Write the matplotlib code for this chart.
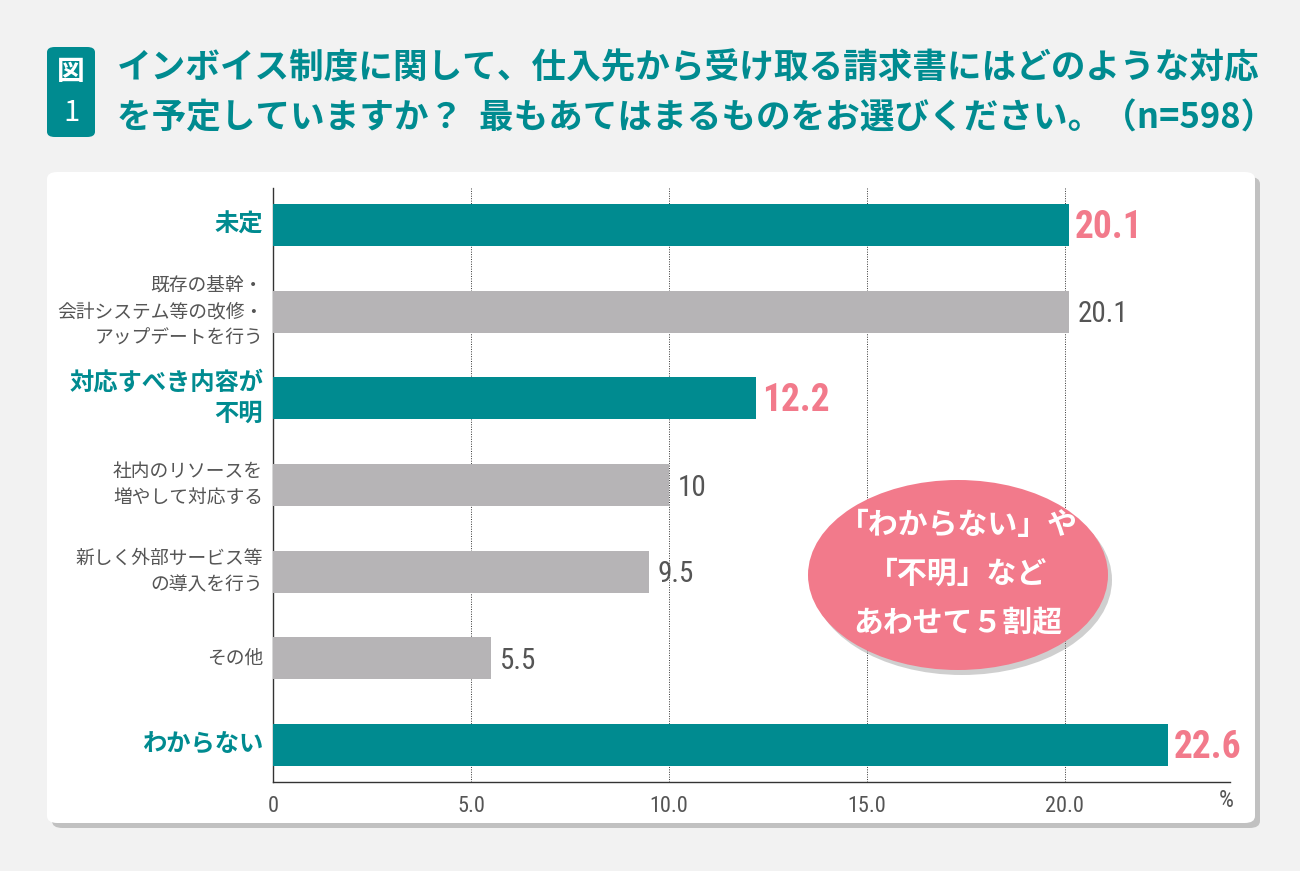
import matplotlib
matplotlib.use("Agg")
import matplotlib.pyplot as plt
from matplotlib import font_manager
from matplotlib.patches import FancyBboxPatch, Ellipse

categories = ["未定", "既存の基幹・\n会計システム等の改修・\nアップデートを行う", "対応すべき内容が\n不明",
              "社内のリソースを\n増やして対応する", "新しく外部サービス等\nの導入を行う", "その他", "わからない"]
values = [20.1, 20.1, 12.2, 10, 9.5, 5.5, 22.6]
value_labels = ["20.1", "20.1", "12.2", "10", "9.5", "5.5", "22.6"]
highlight = [True, False, True, False, False, False, True]
xticks = [0, 5, 10, 15, 20]
xtick_labels = ["0", "5.0", "10.0", "15.0", "20.0"]
title_lines = ["インボイス制度に関して、仕入先から受け取る請求書にはどのような対応",
               "を予定していますか？  最もあてはまるものをお選びください。（n=598）"]
callout = "「わからない」や\n「不明」など\nあわせて５割超"

TEAL = "#008b90"
GRAY_BAR = "#b6b4b6"
PINK = "#f27a8b"
GRAY_TXT = "#555555"
CJK = ["Noto Sans CJK JP", "DejaVu Sans"]

installed = {f.name for f in font_manager.fontManager.ttflist}
narrow_candidates = ["Liberation Sans Narrow", "DejaVu Sans Condensed", "Roboto Condensed",
                     "Open Sans Condensed", "Noto Sans Condensed"]
narrow_found = [n for n in narrow_candidates if n in installed]
NARROW = (narrow_found[:1] or []) + ["DejaVu Sans"]
scale = 1.0 if narrow_found else 0.78

W, H = 1300, 871
fig = plt.figure(figsize=(13, 8.71), dpi=100)
fig.patch.set_facecolor("#f2f2f2")

def fx(x): return x / W
def fy(y): return 1 - y / H

shadow = FancyBboxPatch((fx(52), fy(828)), fx(1255 - 47), (823 - 172) / H,
                        boxstyle="round,pad=0,rounding_size=0.008", transform=fig.transFigure,
                        facecolor="#9a9a9a", edgecolor="none", alpha=0.55, zorder=-2)
fig.patches.append(shadow)
card = FancyBboxPatch((fx(47), fy(823)), fx(1255 - 47), (823 - 172) / H,
                      boxstyle="round,pad=0,rounding_size=0.008", transform=fig.transFigure,
                      facecolor="white", edgecolor="none", zorder=-1)
fig.patches.append(card)

box = FancyBboxPatch((fx(47), fy(137)), fx(48), (137 - 47) / H,
                     boxstyle="round,pad=0,rounding_size=0.006", transform=fig.transFigure,
                     facecolor=TEAL, edgecolor="none", zorder=1)
fig.patches.append(box)
fig.text(fx(71), fy(72), "図", color="white", fontsize=20, fontweight="bold", family=CJK,
         ha="center", va="center")
fig.text(fx(71), fy(113), "1", color="white", fontsize=21, family=CJK,
         ha="center", va="center")

fig.text(fx(117), fy(68), title_lines[0], color=TEAL, fontsize=24.9, fontweight="bold",
         family=CJK, ha="left", va="center")
fig.text(fx(117), fy(118), title_lines[1], color=TEAL, fontsize=24.9, fontweight="bold",
         family=CJK, ha="left", va="center")

ax = fig.add_axes([fx(273), fy(782), fx(1230 - 273), (782 - 188) / H])
ax.set_zorder(1)
ax.set_facecolor("none")
ypos = list(range(len(categories)))
colors = [TEAL if h else GRAY_BAR for h in highlight]
ax.barh(ypos, values, height=0.485, color=colors, zorder=3)
ax.set_xlim(0, 24.17)
ax.set_ylim(len(categories) - 1 + 0.427, -0.427)

for v in xticks[1:]:
    ax.axvline(v, color="#333333", lw=0.7, ls=(0, (1, 1.5)), zorder=1)

for s in ["top", "right"]:
    ax.spines[s].set_visible(False)
for s in ["left", "bottom"]:
    ax.spines[s].set_color("#333333")
    ax.spines[s].set_linewidth(1.0)

ax.set_xticks(xticks)
ax.set_xticklabels(xtick_labels, family=NARROW, fontsize=16 * scale, color=GRAY_TXT)
ax.tick_params(axis="x", length=0, pad=10)
ax.set_yticks([])
ax.text(24.08, 6.427 + 0.21, "%", ha="center", va="center", family=NARROW, fontsize=17 * scale,
        color=GRAY_TXT, clip_on=False)

for i, (cat, h) in enumerate(zip(categories, highlight)):
    ax.text(-0.25, i, cat, ha="right", va="center", family=CJK,
            fontsize=17.5 if h else 13.5, fontweight="bold" if h else "normal",
            color=TEAL if h else GRAY_TXT, linespacing=1.35)

for i, (v, lab, h) in enumerate(zip(values, value_labels, highlight)):
    if h:
        ax.text(v + 0.15, i + 0.03, lab, ha="left", va="center", family=NARROW,
                fontsize=27 * scale, fontweight="bold", color=PINK)
    else:
        ax.text(v + 0.22, i + 0.03, lab, ha="left", va="center", family=NARROW,
                fontsize=21 * scale, color=GRAY_TXT)

sh = Ellipse((fx(962), fy(580)), fx(300), 190 / H, transform=fig.transFigure,
             facecolor="#888888", edgecolor="none", alpha=0.4, zorder=4)
fig.patches.append(sh)
ell = Ellipse((fx(958), fy(575)), fx(300), 190 / H, transform=fig.transFigure,
              facecolor=PINK, edgecolor="none", zorder=5)
fig.patches.append(ell)
fig.text(fx(958), fy(574), callout, color="white", fontsize=21.5, fontweight="bold",
         family=CJK, ha="center", va="center", linespacing=1.8, zorder=6)

fig.savefig("out.png", dpi=100, facecolor=fig.get_facecolor())
